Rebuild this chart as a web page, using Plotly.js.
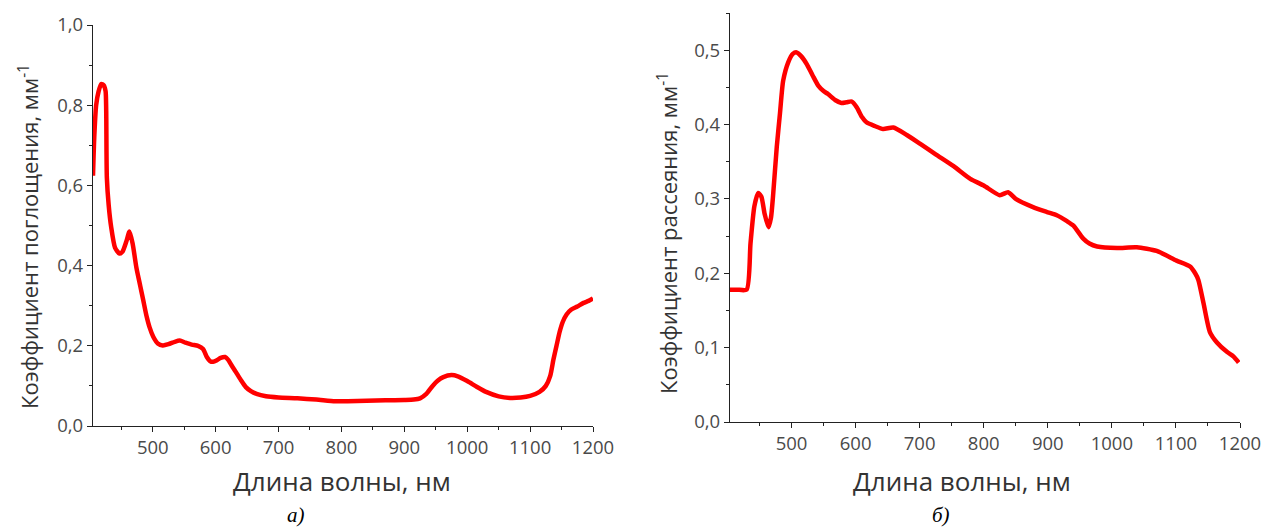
<!DOCTYPE html>
<html>
<head>
<meta charset="utf-8">
<script src="https://cdn.plot.ly/plotly-3.0.1.min.js"></script>
<style>html,body{margin:0;padding:0;background:#fff;}#chart{width:1265px;height:528px;}</style>
</head>
<body>
<div id="chart"></div>
<script>
// Panel a) absorption coefficient
const absWavelength = [405, 407, 410, 414, 418, 422, 425, 426, 427, 430, 434, 440, 447, 452, 458, 463, 468, 474, 480, 485, 490, 495, 501, 508, 516, 525, 535, 543, 552, 562, 572, 580, 586, 591, 596, 602, 608, 615, 620, 625, 632, 640, 648, 656, 665, 680, 700, 730, 760, 790, 810, 840, 870, 900, 915, 925, 935, 945, 953, 962, 975, 985, 1000, 1015, 1030, 1050, 1068, 1085, 1100, 1115, 1125, 1132, 1137, 1142, 1147, 1152, 1158, 1165, 1175, 1185, 1193, 1200];
const absValues = [0.624, 0.72, 0.80, 0.835, 0.853, 0.85, 0.835, 0.786, 0.62, 0.55, 0.495, 0.445, 0.43, 0.435, 0.46, 0.485, 0.455, 0.395, 0.35, 0.313, 0.275, 0.246, 0.222, 0.206, 0.201, 0.204, 0.21, 0.213, 0.208, 0.203, 0.2, 0.192, 0.172, 0.162, 0.16, 0.164, 0.17, 0.172, 0.165, 0.152, 0.135, 0.115, 0.097, 0.087, 0.08, 0.074, 0.071, 0.069, 0.066, 0.062, 0.062, 0.063, 0.064, 0.065, 0.066, 0.069, 0.08, 0.1, 0.113, 0.122, 0.127, 0.124, 0.112, 0.098, 0.085, 0.074, 0.07, 0.071, 0.075, 0.085, 0.1, 0.125, 0.165, 0.2, 0.235, 0.26, 0.278, 0.29, 0.298, 0.307, 0.312, 0.318];

// Panel б) scattering coefficient
const scaWavelength = [404, 415, 430, 436, 442, 448, 453, 458, 464, 468, 471, 477, 482, 487, 495, 502, 508, 515, 524, 533, 542, 550, 557, 568, 578, 586, 594, 602, 610, 617, 630, 643, 659, 680, 701, 725, 753, 779, 800, 825, 838, 850, 877, 900, 914, 930, 940, 955, 965, 977, 1008, 1039, 1070, 1101, 1122, 1130, 1135, 1143, 1153, 1164, 1180, 1190, 1198];
const scaValues = [0.178, 0.178, 0.178, 0.24, 0.29, 0.308, 0.303, 0.28, 0.262, 0.275, 0.302, 0.37, 0.415, 0.459, 0.484, 0.495, 0.497, 0.492, 0.481, 0.466, 0.452, 0.445, 0.441, 0.433, 0.429, 0.43, 0.431, 0.423, 0.41, 0.403, 0.398, 0.394, 0.396, 0.386, 0.374, 0.36, 0.344, 0.327, 0.318, 0.305, 0.309, 0.3, 0.289, 0.282, 0.278, 0.27, 0.264, 0.247, 0.24, 0.236, 0.234, 0.235, 0.23, 0.217, 0.209, 0.2, 0.191, 0.16, 0.121, 0.107, 0.094, 0.088, 0.08];

const xTickVals = [500, 600, 700, 800, 900, 1000, 1100, 1200];
const xTickText = ['500', '600', '700', '800', '900', '1000', '1100', '1200'];
const yTickValsA = [0, 0.2, 0.4, 0.6, 0.8, 1.0];
const yTickTextA = ['0,0', '0,2', '0,4', '0,6', '0,8', '1,0'];
const yTickValsB = [0, 0.1, 0.2, 0.3, 0.4, 0.5];
const yTickTextB = ['0,0', '0,1', '0,2', '0,3', '0,4', '0,5'];

const xTitle = 'Длина волны, нм';
const yTitleA = 'Коэффициент поглощения, мм<sup>-1</sup>';
const yTitleB = 'Коэффициент рассеяния, мм<sup>-1</sup>';

const W = 1265, H = 528;
const fx = p => p / W;
const fy = p => 1 - p / H;

const tickFont = {family: 'Open Sans, sans-serif', size: 18.5, color: '#4a4a4a'};
const xTitleFont = {family: 'Open Sans, sans-serif', size: 26, color: '#333'};
const yTitleFont = {family: 'Open Sans, sans-serif', size: 22, color: '#333'};
const capFont = {family: 'Liberation Serif, serif', size: 21, color: '#000'};

function xAxis(domain, anchor, range) {
  return {
    domain: domain, anchor: anchor, range: range,
    tickmode: 'array', tickvals: xTickVals, ticktext: xTickText,
    ticks: 'outside', ticklen: 5, tickwidth: 1, tickcolor: '#222',
    minor: {ticks: 'outside', ticklen: 3, tickwidth: 1, tickcolor: '#222', dtick: 50, tick0: 0, showgrid: false},
    showline: true, linecolor: '#222', linewidth: 1.2,
    showgrid: false, zeroline: false, tickfont: tickFont, automargin: false
  };
}
function yAxis(domain, anchor, range, vals, text, minorDtick) {
  return {
    domain: domain, anchor: anchor, range: range,
    tickmode: 'array', tickvals: vals, ticktext: text,
    ticks: 'outside', ticklen: 5, tickwidth: 1, tickcolor: '#222',
    minor: {ticks: 'outside', ticklen: 3, tickwidth: 1, tickcolor: '#222', dtick: minorDtick, tick0: 0, showgrid: false},
    showline: true, linecolor: '#222', linewidth: 1.2,
    showgrid: false, zeroline: false, tickfont: tickFont, automargin: false
  };
}

const traces = [
  {x: absWavelength, y: absValues, xaxis: 'x', yaxis: 'y', type: 'scatter', mode: 'lines',
   line: {color: '#ff0000', width: 4.5, shape: 'spline', smoothing: 0.6}, name: 'а'},
  {x: scaWavelength, y: scaValues, xaxis: 'x2', yaxis: 'y2', type: 'scatter', mode: 'lines',
   line: {color: '#ff0000', width: 4.5, shape: 'spline', smoothing: 0.6}, name: 'б'}
];

function label(text, x, y, font, angle) {
  return {text: text, xref: 'paper', yref: 'paper', x: fx(x), y: fy(y), showarrow: false,
          xanchor: 'center', yanchor: 'middle', font: font, textangle: angle || 0};
}

const layout = {
  width: W, height: H,
  margin: {l: 0, r: 0, t: 0, b: 0},
  paper_bgcolor: '#fff', plot_bgcolor: '#fff',
  showlegend: false,
  xaxis: xAxis([fx(93), fx(593)], 'y', [405, 1200]),
  yaxis: yAxis([fy(426), fy(25)], 'x', [0, 1.0], yTickValsA, yTickTextA, 0.1),
  xaxis2: xAxis([fx(730), fx(1240)], 'y2', [404, 1200]),
  yaxis2: yAxis([fy(422), fy(13)], 'x2', [0, 0.55], yTickValsB, yTickTextB, 0.05),
  annotations: [
    label(xTitle, 342, 481, xTitleFont),
    label(xTitle, 962, 481, xTitleFont),
    label(yTitleA, 28, 237, yTitleFont, -90),
    label(yTitleB, 667, 233, yTitleFont, -90),
    label('<i>а)</i>', 296, 515, capFont),
    label('<i>б)</i>', 941, 515, capFont)
  ]
};

Plotly.newPlot('chart', traces, layout, {staticPlot: true, displayModeBar: false});
</script>
</body>
</html>
